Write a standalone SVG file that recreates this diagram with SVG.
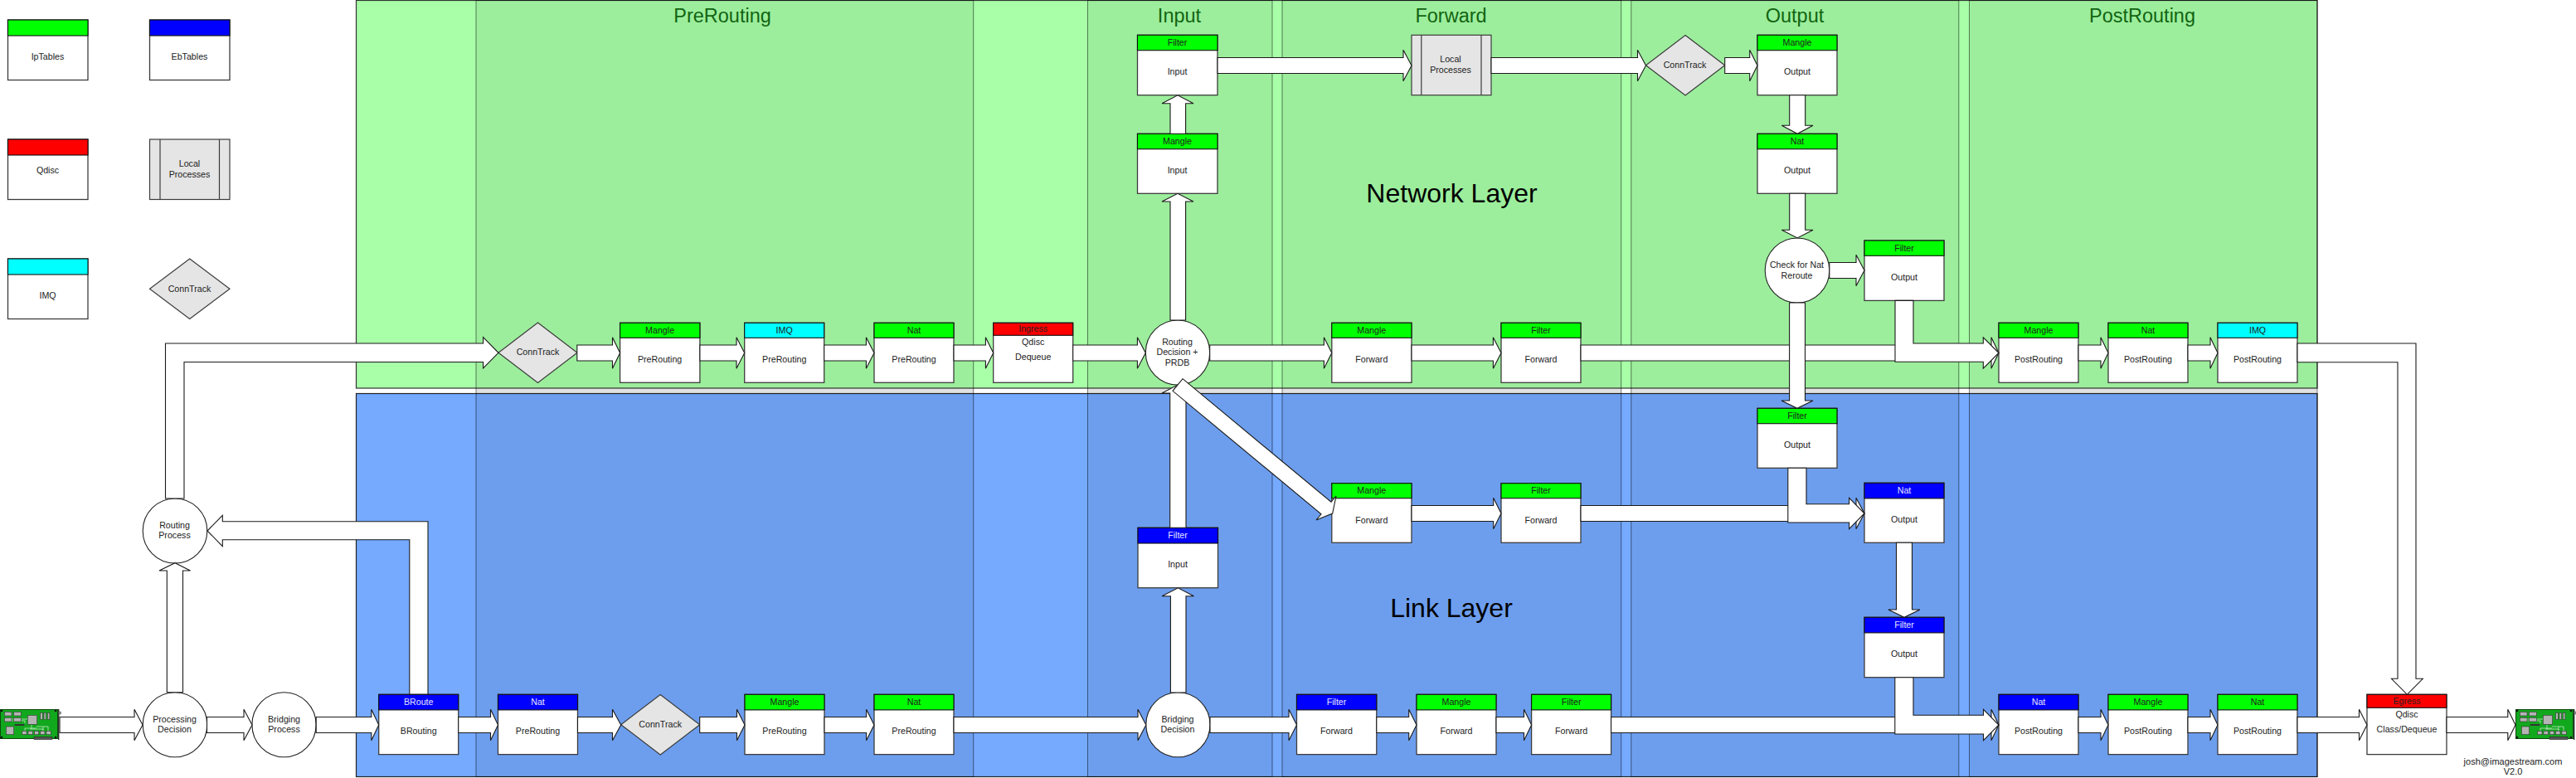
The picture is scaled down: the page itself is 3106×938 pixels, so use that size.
<svg xmlns="http://www.w3.org/2000/svg" xmlns:xlink="http://www.w3.org/1999/xlink" width="3106" height="938" viewBox="0 0 3106 938">
<style>
text{font-family:"Liberation Sans",Arial,sans-serif;font-size:10.67px;text-anchor:middle;fill:#222}
.box{fill:#fff;stroke:#3c3c3c;stroke-width:1.3}
.hg,.hb,.hr,.hc{stroke:#111;stroke-width:1.1}
.hg{fill:#0f0}.hb{fill:#00f}.hr{fill:#f00}.hc{fill:#0ff}
.w{fill:#e6e6ff}
.gray{fill:#e5e5e5;stroke:#3c3c3c;stroke-width:1.2}
.el{fill:#fff;stroke:#222;stroke-width:1.1}
.arrow{fill:#fff;stroke:#1a1a1a;stroke-width:1.1;stroke-linejoin:miter}
.title{font-size:23.5px;fill:#126412}
.layer{font-size:32px;fill:#000}
.col{fill:#000;fill-opacity:.065;stroke:#000;stroke-opacity:.5;stroke-width:1}
.strip{fill:#000;fill-opacity:.05}
.chip{fill:#b4b4b4;stroke:#333;stroke-width:.6}
.trace{fill:none;stroke:#d8f0d8;stroke-width:.7}
</style>
<defs>
<g id="nic">
<rect x="0.5" y="0.5" width="69" height="35" fill="#12a81e" stroke="#0a4a0a" stroke-width="1"/>
<rect x="70" y="0" width="1.4" height="37" fill="#333"/>
<rect x="70.5" y="3" width="2.8" height="3" fill="#888" stroke="#333" stroke-width=".4"/>
<path class="trace" d="M14 12H33M14 14H30V17M38 19V24M44 21H58V26M36 24H52V26M30 26V23H44M52 21V25"/>
<rect class="chip" x="5.3" y="3.3" width="8.7" height="4.7"/><rect class="chip" x="16.7" y="3.3" width="8.6" height="4.7"/>
<rect class="chip" x="5.3" y="10.3" width="8.7" height="4.7"/><rect class="chip" x="16.7" y="10.3" width="8.6" height="4.7"/>
<rect class="chip" x="33.3" y="7.3" width="11.4" height="11"/>
<rect class="chip" x="48.7" y="4.3" width="2.6" height="8"/><rect class="chip" x="53" y="4.3" width="2.6" height="8"/><rect class="chip" x="57.3" y="4.3" width="2.6" height="8"/>
<rect x="17.7" y="18" width="11.6" height="2" fill="#333"/>
<rect class="chip" x="7.3" y="21" width="9.4" height="9.7"/>
<rect class="chip" x="26.7" y="26.3" width="5.4" height="4.4"/><rect class="chip" x="34" y="26.3" width="5.4" height="4.4"/><rect class="chip" x="41.3" y="26.3" width="5.4" height="4.4"/><rect class="chip" x="48.6" y="26.3" width="5.4" height="4.4"/><rect class="chip" x="55.9" y="26.3" width="5.4" height="4.4"/>
<rect x="41" y="33.3" width="22" height="3.4" fill="#555" stroke="#111" stroke-width=".4"/>
<circle cx="2" cy="2" r="1.3" fill="#111"/><circle cx="67" cy="2" r="1.3" fill="#111"/><circle cx="2" cy="34" r="1.3" fill="#111"/><circle cx="67" cy="34" r="1.3" fill="#111"/>
</g>
</defs>
<rect width="3106" height="938" fill="#fff"/>
<g id="layers">
<rect id="network-layer" x="429.5" y="0.5" width="2364.5" height="467.5" fill="#a8ffa8" stroke="#333" stroke-width="1.2"/>
<rect id="link-layer" x="429.5" y="474.5" width="2364.5" height="462" fill="#75aaff" stroke="#222" stroke-width="1.2"/>
<rect class="col" x="574" y="0.5" width="599.7" height="936"/>
<rect class="col" x="1311.5" y="0.5" width="222.5" height="936"/>
<rect class="col" x="1546" y="0.5" width="408.7" height="936"/>
<rect class="col" x="1966.8" y="0.5" width="395" height="936"/>
<rect class="col" x="2374.5" y="0.5" width="419.5" height="936"/>
<rect class="strip" x="574" y="468.6" width="599.7" height="5.4"/>
<rect class="strip" x="1311.5" y="468.6" width="222.5" height="5.4"/>
<rect class="strip" x="1546" y="468.6" width="408.7" height="5.4"/>
<rect class="strip" x="1966.8" y="468.6" width="395" height="5.4"/>
<rect class="strip" x="2374.5" y="468.6" width="419.5" height="5.4"/>
<text class="title" x="871" y="27">PreRouting</text>
<text class="title" x="1422" y="27">Input</text>
<text class="title" x="1749.5" y="27">Forward</text>
<text class="title" x="2164" y="27">Output</text>
<text class="title" x="2583" y="27">PostRouting</text>
<text class="layer" x="1750.5" y="243.5">Network Layer</text>
<text class="layer" x="1750" y="744.3">Link Layer</text>
</g>
<g id="nodes">
<g id="legend-iptables" transform="translate(9.5,24)"><rect class="box" width="96.5" height="72.5"/><rect class="hg" width="96.5" height="19"/><text x="48" y="48">IpTables</text></g>
<g id="legend-ebtables" transform="translate(180.5,24)"><rect class="box" width="96.5" height="72.5"/><rect class="hb" width="96.5" height="19"/><text x="48" y="48">EbTables</text></g>
<g id="legend-qdisc" transform="translate(9.5,168)"><rect class="box" width="96.5" height="72.5"/><rect class="hr" width="96.5" height="19"/><text x="48" y="40.5">Qdisc</text></g>
<g id="legend-local" transform="translate(180.5,168)"><rect class="gray" width="96.5" height="72.5"/><path d="M12.5 0V72.5M84 0V72.5" fill="none" stroke="#3c3c3c" stroke-width="1.2"/><text x="48" y="33">Local</text><text x="48" y="46">Processes</text></g>
<g id="legend-imq" transform="translate(9.5,312)"><rect class="box" width="96.5" height="72.5"/><rect class="hc" width="96.5" height="19"/><text x="48" y="48">IMQ</text></g>
<g id="legend-conntrack" transform="translate(180.5,312)"><path class="gray" d="M48.2 0L96.5 36.2L48.2 72.5L0 36.2Z"/><text x="48" y="39.5">ConnTrack</text></g>

<use id="nic-in" xlink:href="#nic" href="#nic" x="0" y="855"/>
<use id="nic-out" xlink:href="#nic" href="#nic" x="3033" y="855"/>

<g id="routing-process"><ellipse class="el" cx="211" cy="640" rx="38.8" ry="39"/><text x="210.5" y="636.5">Routing</text><text x="210.5" y="649">Process</text></g>
<g id="processing-decision"><ellipse class="el" cx="211" cy="873.7" rx="38.8" ry="39"/><text x="210.5" y="870.5">Processing</text><text x="210.5" y="883">Decision</text></g>
<g id="bridging-process"><ellipse class="el" cx="342.5" cy="873.7" rx="38.6" ry="39"/><text x="342.5" y="870.5">Bridging</text><text x="342.5" y="883">Process</text></g>
<g id="broute" transform="translate(456.7,837.3)"><rect class="box" width="96" height="72.3"/><rect class="hb" width="96" height="18.6"/><text class="w" x="48" y="12.5">BRoute</text><text x="48" y="48">BRouting</text></g>
<g id="nat-pre-bottom-b" transform="translate(600.5,837.3)"><rect class="box" width="96" height="72.3"/><rect class="hb" width="96" height="18.6"/><text class="w" x="48" y="12.5">Nat</text><text x="48" y="48">PreRouting</text></g>
<g id="conntrack-bottom" transform="translate(748.7,837.5)"><path class="gray" d="M47.5 0L95 36.2L47.5 72.4L0 36.2Z"/><text x="47.5" y="39.5">ConnTrack</text></g>
<g id="mangle-pre-bottom" transform="translate(898,837.3)"><rect class="box" width="96" height="72.3"/><rect class="hg" width="96" height="18.6"/><text x="48" y="12.5">Mangle</text><text x="48" y="48">PreRouting</text></g>
<g id="nat-pre-bottom" transform="translate(1054,837.3)"><rect class="box" width="96" height="72.3"/><rect class="hg" width="96" height="18.6"/><text x="48" y="12.5">Nat</text><text x="48" y="48">PreRouting</text></g>
<g id="bridging-decision"><ellipse class="el" cx="1420.4" cy="873.7" rx="38.6" ry="39"/><text x="1420" y="870.5">Bridging</text><text x="1420" y="883">Decision</text></g>
<g id="filter-fwd-bottom-b" transform="translate(1563.5,837.3)"><rect class="box" width="96.3" height="72.3"/><rect class="hb" width="96.3" height="18.6"/><text class="w" x="48" y="12.5">Filter</text><text x="48" y="48">Forward</text></g>
<g id="mangle-fwd-bottom" transform="translate(1708,837.3)"><rect class="box" width="96" height="72.3"/><rect class="hg" width="96" height="18.6"/><text x="48" y="12.5">Mangle</text><text x="48" y="48">Forward</text></g>
<g id="filter-fwd-bottom" transform="translate(1846.6,837.3)"><rect class="box" width="96" height="72.3"/><rect class="hg" width="96" height="18.6"/><text x="48" y="12.5">Filter</text><text x="48" y="48">Forward</text></g>
<g id="nat-post-bottom-b" transform="translate(2410,837.3)"><rect class="box" width="96" height="72.3"/><rect class="hb" width="96" height="18.6"/><text class="w" x="48" y="12.5">Nat</text><text x="48" y="48">PostRouting</text></g>
<g id="mangle-post-bottom" transform="translate(2542,837.3)"><rect class="box" width="96" height="72.3"/><rect class="hg" width="96" height="18.6"/><text x="48" y="12.5">Mangle</text><text x="48" y="48">PostRouting</text></g>
<g id="nat-post-bottom" transform="translate(2674,837.3)"><rect class="box" width="96" height="72.3"/><rect class="hg" width="96" height="18.6"/><text x="48" y="12.5">Nat</text><text x="48" y="48">PostRouting</text></g>
<g id="egress" transform="translate(2854,837.3)"><rect class="box" width="96" height="72.3"/><rect class="hr" width="96" height="16"/><text x="48" y="11.7">Egress</text><text x="48" y="27.9">Qdisc</text><text x="48" y="45.7">Class/Dequeue</text></g>

<g id="conntrack-top" transform="translate(601,389)"><path class="gray" d="M47.5 0L95 36.2L47.5 72.4L0 36.2Z"/><text x="47.5" y="39">ConnTrack</text></g>
<g id="mangle-pre" transform="translate(747.6,389.3)"><rect class="box" width="96.3" height="72"/><rect class="hg" width="96.3" height="18"/><text x="48" y="12.5">Mangle</text><text x="48" y="48">PreRouting</text></g>
<g id="imq-pre" transform="translate(897.7,389.3)"><rect class="box" width="96" height="72"/><rect class="hc" width="96" height="18"/><text x="48" y="12.5">IMQ</text><text x="48" y="48">PreRouting</text></g>
<g id="nat-pre" transform="translate(1054,389.3)"><rect class="box" width="96" height="72"/><rect class="hg" width="96" height="18"/><text x="48" y="12.5">Nat</text><text x="48" y="48">PreRouting</text></g>
<g id="ingress" transform="translate(1197.7,389.3)"><rect class="box" width="96" height="72"/><rect class="hr" width="96" height="15"/><text x="48" y="11">Ingress</text><text x="48" y="27.2">Qdisc</text><text x="48" y="45">Dequeue</text></g>
<g id="routing-decision"><ellipse class="el" cx="1420" cy="425" rx="38.7" ry="39"/><text x="1419.5" y="415.5">Routing</text><text x="1419.5" y="428">Decision +</text><text x="1419.5" y="441">PRDB</text></g>
<g id="mangle-fwd" transform="translate(1605.8,389.3)"><rect class="box" width="96.2" height="72"/><rect class="hg" width="96.2" height="18"/><text x="48" y="12.5">Mangle</text><text x="48" y="48">Forward</text></g>
<g id="filter-fwd" transform="translate(1810,389.3)"><rect class="box" width="96" height="72"/><rect class="hg" width="96" height="18"/><text x="48" y="12.5">Filter</text><text x="48" y="48">Forward</text></g>
<g id="filter-input" transform="translate(1371.5,42.3)"><rect class="box" width="96.5" height="72.4"/><rect class="hg" width="96.5" height="18.4"/><text x="48" y="12.5">Filter</text><text x="48" y="48">Input</text></g>
<g id="mangle-input" transform="translate(1371.5,161.3)"><rect class="box" width="96.5" height="72"/><rect class="hg" width="96.5" height="18.4"/><text x="48" y="12.5">Mangle</text><text x="48" y="48">Input</text></g>
<g id="local-processes" transform="translate(1702,42.3)"><rect class="gray" width="96" height="72.4"/><path d="M11.8 0V72.4M84 0V72.4" fill="none" stroke="#3c3c3c" stroke-width="1.2"/><text x="47" y="33">Local</text><text x="47" y="46">Processes</text></g>
<g id="conntrack-output" transform="translate(1984.5,42.5)"><path class="gray" d="M47.6 0L95.2 36.2L47.6 72.4L0 36.2Z"/><text x="47" y="39">ConnTrack</text></g>
<g id="mangle-output" transform="translate(2119,42.3)"><rect class="box" width="96" height="72.4"/><rect class="hg" width="96" height="18.4"/><text x="48" y="12.5">Mangle</text><text x="48" y="48">Output</text></g>
<g id="nat-output" transform="translate(2119,161.3)"><rect class="box" width="96" height="72"/><rect class="hg" width="96" height="18.4"/><text x="48" y="12.5">Nat</text><text x="48" y="48">Output</text></g>
<g id="check-nat-reroute"><ellipse class="el" cx="2167" cy="326" rx="38.8" ry="39"/><text x="2166.5" y="323">Check for Nat</text><text x="2166.5" y="336">Reroute</text></g>
<g id="filter-output" transform="translate(2248,290)"><rect class="box" width="96" height="72.4"/><rect class="hg" width="96" height="18.3"/><text x="48" y="12.5">Filter</text><text x="48" y="48">Output</text></g>
<g id="mangle-post" transform="translate(2410,389.3)"><rect class="box" width="96" height="72"/><rect class="hg" width="96" height="18"/><text x="48" y="12.5">Mangle</text><text x="48" y="48">PostRouting</text></g>
<g id="nat-post" transform="translate(2542,389.3)"><rect class="box" width="96" height="72"/><rect class="hg" width="96" height="18"/><text x="48" y="12.5">Nat</text><text x="48" y="48">PostRouting</text></g>
<g id="imq-post" transform="translate(2674,389.3)"><rect class="box" width="96" height="72"/><rect class="hc" width="96" height="18"/><text x="48" y="12.5">IMQ</text><text x="48" y="48">PostRouting</text></g>
<g id="filter-output-link" transform="translate(2119,492.3)"><rect class="box" width="96" height="72"/><rect class="hg" width="96" height="18.4"/><text x="48" y="12.5">Filter</text><text x="48" y="48">Output</text></g>
<g id="nat-output-link" transform="translate(2248,582.3)"><rect class="box" width="96" height="72"/><rect class="hb" width="96" height="18.6"/><text class="w" x="48" y="12.5">Nat</text><text x="48" y="48">Output</text></g>
<g id="filter-output-link-b" transform="translate(2248,744.3)"><rect class="box" width="96" height="72.4"/><rect class="hb" width="96" height="18.6"/><text class="w" x="48" y="12.5">Filter</text><text x="48" y="48">Output</text></g>
<g id="mangle-fwd-link" transform="translate(1605.8,582.7)"><rect class="box" width="96.2" height="71.6"/><rect class="hg" width="96.2" height="18"/><text x="48" y="12.5">Mangle</text><text x="48" y="48">Forward</text></g>
<g id="filter-fwd-link" transform="translate(1810,582.7)"><rect class="box" width="96" height="71.6"/><rect class="hg" width="96" height="18"/><text x="48" y="12.5">Filter</text><text x="48" y="48">Forward</text></g>
<g id="filter-input-link" transform="translate(1372,636.3)"><rect class="box" width="96.5" height="72.4"/><rect class="hb" width="96.5" height="18.7"/><text class="w" x="48" y="12.5">Filter</text><text x="48" y="48">Input</text></g>
</g>
<g id="connectors">
<polygon class="arrow" points="199.5,601 199.5,414 582.6,414 582.6,406.7 601,425.3 582.6,444 582.6,436.5 222,436.5 222,601"/>
<polygon class="arrow" points="516,837 516,628.7 268.3,628.7 268.3,621.3 250,640 268.3,658.7 268.3,650.7 493.8,650.7 493.8,837"/>
<polygon class="arrow" points="201.3,834.7 201.3,688 192,688 211,678.7 229.5,688 220.5,688 220.5,834.7"/>
<polygon class="arrow" points="72,864.5 162,864.5 162,855.3 172,874 162,892.7 162,883.5 72,883.5"/>
<polygon class="arrow" points="249.5,864.5 294,864.5 294,855.3 304,874 294,892.7 294,883.5 249.5,883.5"/>
<polygon class="arrow" points="381.2,864.5 447.8,864.5 447.8,855.3 456.7,874 447.8,892.7 447.8,883.5 381.2,883.5"/>
<polygon class="arrow" points="552.7,864.5 591.5,864.5 591.5,855.3 600.5,874 591.5,892.7 591.5,883.5 552.7,883.5"/>
<polygon class="arrow" points="696.5,864.5 738.5,864.5 738.5,855.3 748.7,874 738.5,892.7 738.5,883.5 696.5,883.5"/>
<polygon class="arrow" points="843.7,864.5 888.5,864.5 888.5,855.3 898,874 888.5,892.7 888.5,883.5 843.7,883.5"/>
<polygon class="arrow" points="994,864.5 1044.6,864.5 1044.6,855.3 1054,874 1044.6,892.7 1044.6,883.5 994,883.5"/>
<polygon class="arrow" points="1150,864.5 1372,864.5 1372,855.3 1381.8,874 1372,892.7 1372,883.5 1150,883.5"/>
<polygon class="arrow" points="1459,864.5 1554,864.5 1554,855.3 1563.5,874 1554,892.7 1554,883.5 1459,883.5"/>
<polygon class="arrow" points="1659.8,864.5 1698.7,864.5 1698.7,855.3 1708,874 1698.7,892.7 1698.7,883.5 1659.8,883.5"/>
<polygon class="arrow" points="1804,864.5 1837.5,864.5 1837.5,855.3 1846.6,874 1837.5,892.7 1837.5,883.5 1804,883.5"/>
<polygon class="arrow" points="1942.6,864.5 2401,864.5 2401,855.3 2410,874 2401,892.7 2401,883.5 1942.6,883.5"/>
<polygon class="arrow" points="2506,864.5 2533,864.5 2533,855.3 2542,874 2533,892.7 2533,883.5 2506,883.5"/>
<polygon class="arrow" points="2638,864.5 2665,864.5 2665,855.3 2674,874 2665,892.7 2665,883.5 2638,883.5"/>
<polygon class="arrow" points="2770,864.5 2844.5,864.5 2844.5,855.3 2854,874 2844.5,892.7 2844.5,883.5 2770,883.5"/>
<polygon class="arrow" points="2950,864.5 3023.8,864.5 3023.8,855.3 3033,874 3023.8,892.7 3023.8,883.5 2950,883.5"/>
<polygon class="arrow" points="695.8,416 738.5,416 738.5,406.8 747.6,425.5 738.5,444.2 738.5,435 695.8,435"/>
<polygon class="arrow" points="843.9,416 888,416 888,406.8 897.7,425.5 888,444.2 888,435 843.9,435"/>
<polygon class="arrow" points="993.7,416 1044.4,416 1044.4,406.8 1054,425.5 1044.4,444.2 1044.4,435 993.7,435"/>
<polygon class="arrow" points="1150,416 1188.4,416 1188.4,406.8 1197.7,425.5 1188.4,444.2 1188.4,435 1150,435"/>
<polygon class="arrow" points="1293.7,416 1371.4,416 1371.4,406.8 1381.3,425.5 1371.4,444.2 1371.4,435 1293.7,435"/>
<polygon class="arrow" points="1458.7,416 1596.4,416 1596.4,406.8 1605.8,425.5 1596.4,444.2 1596.4,435 1458.7,435"/>
<polygon class="arrow" points="1702,416 1800.4,416 1800.4,406.8 1810,425.5 1800.4,444.2 1800.4,435 1702,435"/>
<polygon class="arrow" points="1906,416 2401,416 2401,406.8 2410,425.5 2401,444.2 2401,435 1906,435"/>
<polygon class="arrow" points="2506,416 2533,416 2533,406.8 2542,425.5 2533,444.2 2533,435 2506,435"/>
<polygon class="arrow" points="2638,416 2665,416 2665,406.8 2674,425.5 2665,444.2 2665,435 2638,435"/>
<polygon class="arrow" points="2770,414 2913,414 2913,818.3 2921.3,818.3 2902.4,837.3 2883.5,818.3 2891,818.3 2891,436.7 2770,436.7"/>
<polygon class="arrow" points="1468,69.5 1692,69.5 1692,60.3 1702,79 1692,97.7 1692,88.5 1468,88.5"/>
<polygon class="arrow" points="1798,69.5 1974.5,69.5 1974.5,60.3 1984.5,79 1974.5,97.7 1974.5,88.5 1798,88.5"/>
<polygon class="arrow" points="2079.7,69.5 2109.7,69.5 2109.7,60.3 2119,79 2109.7,97.7 2109.7,88.5 2079.7,88.5"/>
<polygon class="arrow" points="1411,161.3 1411,124.7 1401,124.7 1420,114.8 1439,124.7 1429.6,124.7 1429.6,161.3"/>
<polygon class="arrow" points="1411,386 1411,243 1401,243 1420,233.3 1439,243 1429.6,243 1429.6,386"/>
<polygon class="arrow" points="1410.7,636.3 1410.7,474 1401,474 1420,464 1439,474 1430,474 1430,636.3"/>
<polygon class="arrow" points="1411.4,835 1411.4,718.7 1401,718.7 1420.4,708.8 1439.5,718.7 1430,718.7 1430,835"/>
<polygon class="arrow" points="1426,456.7 1605,605.2 1611,598 1606.7,619 1587,627 1593,619.8 1414,471.3"/>
<polygon class="arrow" points="1702,609.5 1800.7,609.5 1800.7,600.3 1810,619 1800.7,637.7 1800.7,628.5 1702,628.5"/>
<polygon class="arrow" points="1906,609.5 2238,609.5 2238,600.3 2248,619 2238,637.7 2238,628.5 1906,628.5"/>
<polygon class="arrow" points="2157.7,114.7 2157.7,151.3 2148.3,151.3 2167.2,161.3 2186,151.3 2176.7,151.3 2176.7,114.7"/>
<polygon class="arrow" points="2157.7,233.3 2157.7,277.3 2148.3,277.3 2167.2,287 2186,277.3 2176.7,277.3 2176.7,233.3"/>
<polygon class="arrow" points="2205.8,316.5 2238,316.5 2238,307.3 2248,326 2238,344.7 2238,335.5 2205.8,335.5"/>
<polygon class="arrow" points="2157.6,365 2157.6,483 2148,483 2167,492.3 2186,483 2176.5,483 2176.5,365"/>
<polygon class="arrow" points="2285,362.4 2285,436.3 2391.3,436.3 2391.3,444.2 2410,425.5 2391.3,406.8 2391.3,414 2307,414 2307,362.4"/>
<polygon class="arrow" points="2155.8,564.3 2155.8,630 2229.6,630 2229.6,637.7 2248,619 2229.6,600.3 2229.6,607.7 2178,607.7 2178,564.3"/>
<polygon class="arrow" points="2286.5,654.3 2286.5,735 2276.8,735 2296,744.3 2315,735 2305.5,735 2305.5,654.3"/>
<polygon class="arrow" points="2284.8,816.7 2284.8,885 2391.5,885 2391.5,892.7 2410,874 2391.5,855.3 2391.5,862.3 2307,862.3 2307,816.7"/>
</g>
<g id="credits">
<text x="3030" y="921.5" style="font-size:11px">josh@imagestream.com</text>
<text x="3030" y="934" style="font-size:11px">V2.0</text>
</g>
</svg>
